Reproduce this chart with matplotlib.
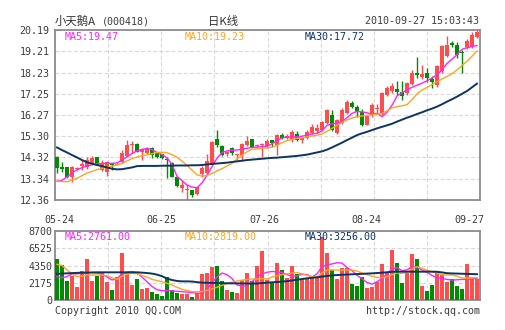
import numpy as np
import matplotlib
matplotlib.use("Agg")
import matplotlib.pyplot as plt

# daily k-line, 2010-05-24 .. 2010-09-27 (85 sessions)
opens = [14.35, 13.89, 13.86, 13.40, 13.80, 13.94, 13.87, 14.05, 14.33, 13.74,
         13.64, 14.05, 13.98, 14.10, 14.39, 14.90, 14.94, 14.56, 14.51, 14.75,
         14.51, 14.48, 14.24, 14.05, 13.40, 12.90, 12.80, 12.82, 12.62, 13.55,
         13.60, 13.97, 15.15, 14.85, 14.46, 14.76, 14.44, 14.43, 14.90, 15.15,
         14.83, 14.88, 14.86, 15.12, 14.89, 15.35, 15.20, 15.12, 15.40, 15.12,
         15.20, 15.46, 15.52, 15.58, 15.89, 16.27, 15.43, 15.89, 16.35, 16.84,
         16.66, 16.43, 15.82, 16.28, 16.55, 16.32, 17.21, 17.37, 17.45, 17.32,
         17.29, 17.70, 18.20, 18.01, 18.20, 17.92, 17.64, 18.29, 19.00, 19.60,
         19.52, 19.19, 19.39, 19.42, 19.85]
highs = [14.40, 14.12, 13.88, 13.92, 13.88, 14.20, 14.35, 14.39, 14.35, 14.20,
         14.15, 14.08, 14.05, 14.66, 15.12, 15.08, 14.98, 14.76, 14.78, 14.78,
         14.55, 14.50, 14.35, 14.10, 13.42, 13.28, 13.10, 12.84, 12.96, 13.93,
         14.46, 15.09, 15.58, 14.88, 14.60, 14.80, 14.50, 14.97, 15.31, 15.18,
         14.92, 15.00, 15.15, 15.14, 15.40, 15.45, 15.40, 15.58, 15.52, 15.22,
         15.58, 15.85, 15.85, 16.00, 16.55, 16.50, 16.08, 16.60, 16.96, 16.90,
         16.75, 16.55, 16.25, 16.85, 16.80, 17.35, 17.60, 17.75, 17.85, 17.83,
         17.80, 18.35, 18.93, 18.60, 18.45, 18.05, 18.60, 19.50, 19.90, 19.70,
         19.65, 19.25, 19.76, 20.10, 20.19]
lows = [13.60, 13.66, 13.36, 13.18, 13.75, 13.74, 13.79, 14.00, 13.95, 13.70,
        13.47, 13.72, 13.95, 14.05, 14.35, 14.51, 14.55, 14.20, 14.48, 14.30,
        14.30, 14.25, 13.36, 13.40, 12.98, 12.74, 12.38, 12.50, 12.60, 13.43,
        13.50, 13.95, 14.80, 14.40, 14.40, 14.43, 14.20, 14.17, 14.85, 14.80,
        14.78, 14.35, 14.75, 14.80, 14.43, 15.15, 15.15, 15.05, 15.10, 14.97,
        15.15, 15.40, 15.45, 15.55, 15.85, 15.55, 15.40, 15.85, 16.30, 16.60,
        16.20, 15.75, 15.80, 16.20, 16.30, 16.28, 17.15, 17.30, 17.20, 16.98,
        17.20, 17.65, 17.98, 17.95, 17.80, 17.50, 17.55, 18.20, 18.95, 19.40,
        18.90, 18.20, 19.30, 19.35, 19.80]
closes = [13.82, 13.79, 13.43, 13.89, 13.84, 14.02, 14.20, 14.28, 13.97, 14.02,
          14.12, 13.96, 14.02, 14.51, 14.89, 14.93, 14.58, 14.70, 14.74, 14.43,
          14.35, 14.28, 14.20, 13.43, 13.02, 13.05, 12.86, 12.58, 12.94, 13.82,
          14.17, 15.05, 14.88, 14.45, 14.56, 14.52, 14.48, 14.93, 15.09, 14.82,
          14.87, 14.95, 15.06, 14.98, 15.35, 15.20, 15.31, 15.51, 15.12, 15.20,
          15.51, 15.74, 15.66, 15.97, 16.50, 15.58, 16.04, 16.50, 16.89, 16.66,
          16.42, 15.82, 16.23, 16.75, 16.62, 17.29, 17.52, 17.60, 17.32, 17.14,
          17.74, 18.20, 18.13, 18.16, 17.98, 17.78, 18.52, 19.44, 19.50, 19.49,
          19.05, 19.12, 19.70, 19.95, 20.11]

ma5 = [13.22, 13.27, 13.42, 13.62, 13.75, 13.85, 13.93, 13.98, 14.03, 14.05,
       14.05, 14.05, 14.07, 14.20, 14.35, 14.50, 14.62, 14.68, 14.74, 14.68,
       14.55, 14.45, 14.30, 14.00, 13.45, 13.25, 13.05, 12.96, 12.93, 13.15,
       13.50, 13.90, 14.28, 14.55, 14.62, 14.65, 14.66, 14.70, 14.74, 14.78,
       14.80, 14.82, 14.84, 14.95, 15.10, 15.22, 15.25, 15.26, 15.27, 15.30,
       15.35, 15.40, 15.43, 15.55, 15.80, 15.86, 15.92, 15.97, 16.15, 16.35,
       16.44, 16.42, 16.38, 16.30, 16.35, 16.20, 16.40, 16.72, 17.15, 17.30,
       17.43, 17.55, 17.65, 17.74, 17.85, 17.98, 18.12, 18.35, 18.65, 18.85,
       19.05, 19.30, 19.38, 19.43, 19.47]
ma10 = [13.23, 13.21, 13.20, 13.28, 13.36, 13.48, 13.60, 13.68, 13.76, 13.82,
        13.87, 13.92, 13.98, 14.04, 14.16, 14.27, 14.34, 14.40, 14.44, 14.49,
        14.55, 14.56, 14.54, 14.45, 14.33, 14.15, 13.95, 13.74, 13.52, 13.46,
        13.49, 13.58, 13.70, 13.80, 13.93, 14.05, 14.25, 14.42, 14.58, 14.70,
        14.72, 14.74, 14.76, 14.79, 14.88, 15.00, 15.10, 15.15, 15.20, 15.22,
        15.27, 15.31, 15.34, 15.40, 15.52, 15.66, 15.81, 15.93, 16.05, 16.13,
        16.20, 16.23, 16.26, 16.28, 16.31, 16.35, 16.47, 16.60, 16.66, 16.70,
        16.75, 16.98, 17.25, 17.42, 17.55, 17.68, 17.81, 17.93, 18.05, 18.18,
        18.35, 18.55, 18.75, 18.98, 19.23]
ma30 = [14.78, 14.66, 14.55, 14.43, 14.32, 14.20, 14.10, 14.03, 13.97, 13.92,
        13.86, 13.80, 13.77, 13.78, 13.82, 13.86, 13.92, 13.93, 13.93, 13.93,
        13.93, 13.94, 13.94, 13.94, 13.95, 13.95, 13.95, 13.96, 13.96, 13.97,
        14.00, 14.02, 14.04, 14.06, 14.08, 14.11, 14.14, 14.17, 14.20, 14.22,
        14.24, 14.26, 14.28, 14.30, 14.31, 14.33, 14.35, 14.37, 14.39, 14.42,
        14.45, 14.50, 14.55, 14.60, 14.68, 14.78, 14.89, 15.00, 15.12, 15.23,
        15.35, 15.43, 15.50, 15.58, 15.66, 15.73, 15.80, 15.87, 15.97, 16.06,
        16.15, 16.23, 16.32, 16.40, 16.49, 16.57, 16.66, 16.77, 16.89, 17.00,
        17.12, 17.25, 17.38, 17.55, 17.72]

volume = [5170, 4410, 2400, 3030, 1680, 3660, 5170, 2400, 3030, 3360,
          2270, 1260, 2940, 5930, 3360, 1890, 2650, 1390, 1510, 1010,
          760, 500, 2860, 1260, 880, 760, 760, 380, 880, 3280,
          3400, 4160, 4290, 2400, 1260, 1010, 880, 2520, 3400, 2440,
          4290, 6180, 2520, 2100, 4620, 3780, 2730, 4290, 3280, 2610,
          2610, 2860, 2730, 7900, 5970, 3780, 2610, 4080, 4000, 2020,
          1770, 2860, 1560, 1680, 2310, 4540, 3490, 6300, 4710, 2100,
          3360, 5800, 5170, 1770, 1180, 1890, 3570, 3150, 2310, 2610,
          1770, 1390, 4540, 2860, 2610]
vol_ma5 = [2940, 2800, 2950, 3280, 3300, 3360, 3400, 3450, 3400, 3280,
           2900, 2520, 2700, 3300, 3500, 3570, 3400, 2900, 2300, 1700,
           1300, 1180, 1180, 1150, 1100, 1050, 1000, 920, 860, 840,
           1300, 2200, 2900, 3400, 3200, 2700, 1900, 1750, 1850, 2300,
           2900, 3300, 3500, 3600, 3550, 3450, 3200, 3000, 3050, 3250,
           3200, 2900, 3300, 4200, 4450, 4540, 4700, 4650, 4100, 3700,
           3100, 2700, 2200, 2000, 2300, 2700, 3300, 3900, 4100, 3700,
           3800, 4200, 4100, 3800, 3500, 3100, 2800, 2700, 2600, 2500,
           2550, 2600, 2600, 2650, 2761]
vol_ma10 = [4500, 4350, 3800, 3300, 2940, 3000, 3150, 3150, 3150, 3150,
            3050, 2800, 2600, 3000, 3250, 3360, 3300, 3100, 2900, 2600,
            2450, 2300, 2100, 1900, 1600, 1350, 1200, 1050, 1050, 1050,
            1200, 1400, 1600, 1850, 2060, 2250, 2400, 2500, 2600, 2650,
            2650, 2700, 2650, 2900, 3050, 3200, 3300, 3400, 3450, 3300,
            3100, 2950, 2860, 3400, 3780, 3780, 3780, 3780, 3780, 3780,
            3650, 3400, 3200, 3000, 2850, 2800, 2950, 3200, 3400, 3360,
            3500, 3900, 4200, 4000, 3750, 3570, 3400, 3200, 3150, 3150,
            3000, 2800, 2750, 2800, 2819]
vol_ma30 = [3300, 3330, 3360, 3390, 3420, 3440, 3460, 3480, 3490, 3490,
            3490, 3490, 3490, 3490, 3490, 3490, 3490, 3450, 3400, 3330,
            3200, 3000, 2700, 2520, 2400, 2350, 2350, 2330, 2250, 2190,
            2170, 2150, 2140, 2120, 2110, 2100, 2100, 2090, 2080, 2070,
            2080, 2130, 2190, 2230, 2270, 2310, 2380, 2460, 2550, 2650,
            2730, 2800, 2860, 2950, 3030, 3100, 3150, 3180, 3210, 3240,
            3270, 3300, 3330, 3360, 3400, 3440, 3500, 3560, 3570, 3570,
            3570, 3570, 3570, 3570, 3570, 3570, 3560, 3480, 3380, 3350,
            3330, 3310, 3290, 3270, 3256]

price_ticks = ['12.36', '13.34', '14.32', '15.30', '16.27', '17.25', '18.23', '19.21', '20.19']
vol_ticks = ['0', '2175', '4350', '6525', '8700']
date_labels = ['05-24', '06-25', '07-26', '08-24', '09-27']

RED = '#ff4d4d'
GREEN = '#008c00'
C_MA5 = '#ff22ff'
C_MA10 = '#ffa51f'
C_MA30 = '#0c3466'
FRAME = '#8c8c8c'
GRID = '#d8d8d8'
TXT = '#3c3c3c'
MONO = 'DejaVu Sans Mono'
CJK = ['Noto Sans CJK SC', 'DejaVu Sans']

W, H = 505, 330
fig = plt.figure(figsize=(W / 100, H / 100), dpi=100)
fig.patch.set_facecolor('white')


def px_axes(left, top, right, bottom):
    return fig.add_axes([left / W, 1 - bottom / H, (right - left) / W, (bottom - top) / H])


def txt(x, y, s, **kw):
    kw.setdefault('family', MONO)
    kw.setdefault('fontsize', 7.2)
    kw.setdefault('color', TXT)
    fig.text(x / W, 1 - y / H, s, va='center', **kw)


ax = px_axes(55, 30, 480, 200)
axv = px_axes(55, 231, 480, 300)

n = len(closes)
xs = np.arange(n)
o = np.array(opens)
c = np.array(closes)
up = c >= o
cols = np.where(up, RED, GREEN)

# candles
ax.vlines(xs, lows, highs, colors=cols, lw=1.0, zorder=3)
body = np.maximum(np.abs(c - o), 0.05)
ax.bar(xs, body, bottom=np.minimum(o, c), width=0.8, color=cols, lw=0, zorder=4)
ax.plot(xs, ma5, color=C_MA5, lw=1.0, zorder=5)
ax.plot(xs, ma10, color=C_MA10, lw=1.0, zorder=5)
ax.plot(xs, ma30, color=C_MA30, lw=1.4, zorder=5)

# volume
axv.bar(xs, volume, width=0.8, color=cols, lw=0, zorder=3)
axv.plot(xs, vol_ma5, color=C_MA5, lw=1.0, zorder=4)
axv.plot(xs, vol_ma10, color=C_MA10, lw=1.0, zorder=4)
axv.plot(xs, vol_ma30, color=C_MA30, lw=1.4, zorder=4)

pvals = [float(v) for v in price_ticks]
vvals = [float(v) for v in vol_ticks]
xgrid = np.linspace(-0.4, n - 0.4, 9)

for a, yv, yl in ((ax, pvals, price_ticks), (axv, vvals, vol_ticks)):
    a.set_xlim(-0.4, n - 0.4)
    a.set_ylim(yv[0], yv[-1])
    a.set_yticks(yv)
    a.set_yticklabels(yl, family=MONO, fontsize=7.2, color=TXT)
    a.set_xticks(xgrid, minor=True)
    a.grid(True, which='major', axis='y', color=GRID, ls=(0, (3.5, 2)), lw=0.8, zorder=0)
    a.grid(True, which='minor', axis='x', color=GRID, ls=(0, (3.5, 2)), lw=0.8, zorder=0)
    a.tick_params(which='both', length=0)
    for s in a.spines.values():
        s.set_color(FRAME)
        s.set_linewidth(1.3)

ax.tick_params(axis='y', pad=4)
axv.tick_params(axis='y', pad=2)
ax.set_xticks(np.linspace(0.4, 82.4, len(date_labels)))
ax.set_xticklabels(date_labels, family=MONO, fontsize=7.2, color=TXT)
ax.tick_params(axis='x', pad=11)
axv.set_xticks([])

# header
txt(55, 21.5, '小天鹅A', family=CJK, fontsize=8.2, color='#333333')
txt(102, 21.5, '(000418)')
txt(208, 21.5, '日K线', family=CJK, fontsize=8.2, color='#333333')
txt(479, 21.5, '2010-09-27 15:03:43', ha='right')

txt(65, 36.5, 'MA5:%.2f' % ma5[-1], color=C_MA5)
txt(185, 36.5, 'MA10:%.2f' % ma10[-1], color=C_MA10)
txt(305, 36.5, 'MA30:%.2f' % ma30[-1], color=C_MA30)

txt(65, 236.5, 'MA5:%.2f' % vol_ma5[-1], color=C_MA5)
txt(185, 236.5, 'MA10:%.2f' % vol_ma10[-1], color=C_MA10)
txt(305, 236.5, 'MA30:%.2f' % vol_ma30[-1], color=C_MA30)

txt(55, 311.5, 'Copyright 2010 QQ.COM')
txt(480, 311.5, 'http://stock.qq.com', ha='right')

fig.savefig('out.png', dpi=100, facecolor='white')
